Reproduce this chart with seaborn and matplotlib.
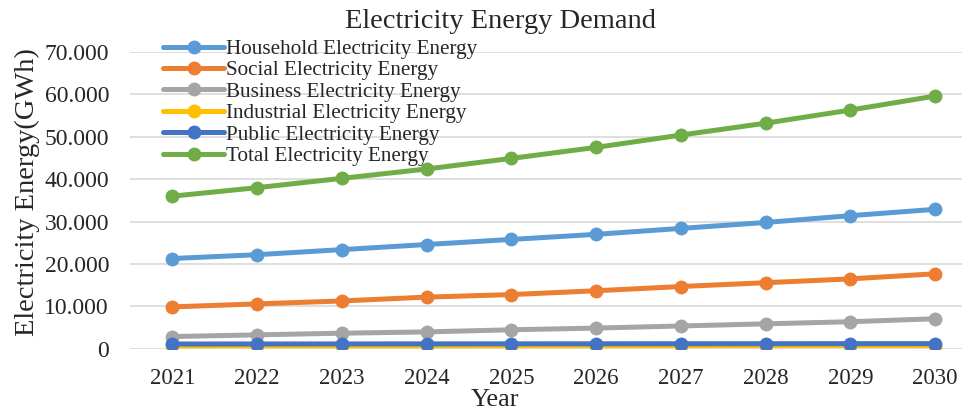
import numpy as np
import pandas as pd
import seaborn as sns
import matplotlib
matplotlib.use("Agg")
import matplotlib.pyplot as plt
from matplotlib.ticker import FuncFormatter

# data (GWh)
years = ["2021", "2022", "2023", "2024", "2025", "2026", "2027", "2028", "2029", "2030"]
household = [21300, 22200, 23400, 24600, 25800, 27000, 28400, 29800, 31400, 32900]
social = [9900, 10600, 11300, 12200, 12800, 13700, 14700, 15600, 16500, 17700]
business = [2900, 3300, 3700, 4000, 4500, 4900, 5400, 5900, 6400, 7100]
industrial = [700, 710, 720, 730, 740, 750, 760, 770, 780, 790]
public = [1150, 1160, 1170, 1180, 1190, 1200, 1210, 1220, 1230, 1240]
total = [36000, 38000, 40200, 42400, 44900, 47500, 50400, 53200, 56300, 59600]

series_names = [
    "Household Electricity Energy",
    "Social Electricity Energy",
    "Business Electricity Energy",
    "Industrial Electricity Energy",
    "Public Electricity Energy",
    "Total Electricity Energy",
]
colors = ["#5B9BD5", "#ED7D31", "#A5A5A5", "#FFC000", "#4472C4", "#70AD47"]

# long format for seaborn
rows = []
for name, vals in zip(series_names, [household, social, business, industrial, public, total]):
    for y, v in zip(years, vals):
        rows.append({"Year": y, "Value": v, "Series": name})
df = pd.DataFrame(rows)

sns.set_style("white")
plt.rcParams["font.family"] = ["Liberation Serif", "DejaVu Serif"]

fig = plt.figure(figsize=(9.69, 4.09), dpi=100)
ax = fig.add_axes([0.134, 0.147, 0.859, 0.726])

sns.lineplot(
    data=df, x="Year", y="Value", hue="Series", hue_order=series_names,
    palette=colors, marker="o", markersize=10, markeredgewidth=0,
    linewidth=3.6, ax=ax, sort=False,
)

ax.set_ylim(0, 70000)
ax.set_xlim(-0.5, 9.32)
ax.set_yticks(np.arange(0, 70001, 10000))
ax.yaxis.set_major_formatter(FuncFormatter(lambda v, p: f"{v:,.0f}".replace(",", ".")))
ax.grid(axis="y", color="#D9D9D9", linewidth=1.2)
ax.set_axisbelow(True)
for s in ax.spines.values():
    s.set_visible(False)
ax.tick_params(axis="y", length=0, labelsize=17, pad=15)
ax.tick_params(axis="x", length=0, labelsize=16.5, pad=14)

ax.set_xlabel("")
ax.set_ylabel("")
fig.text(0.028, 0.53, "Electricity Energy(GWh)", rotation=90, va="center", ha="center", fontsize=20.5)
fig.text(0.511, 0.008, "Year", ha="center", va="baseline", fontsize=19)
fig.text(0.516, 0.932, "Electricity Energy Demand", ha="center", va="baseline", fontsize=20.5)

# legend sits partly above the plot area, like the original
leg = ax.legend(
    loc="upper left", bbox_to_anchor=(0.04, 1.043), frameon=False,
    fontsize=15.2, labelspacing=0.08, handlelength=2.9, handletextpad=0.1,
    borderpad=0, borderaxespad=0,
)

fig.savefig("out.png", dpi=100)
